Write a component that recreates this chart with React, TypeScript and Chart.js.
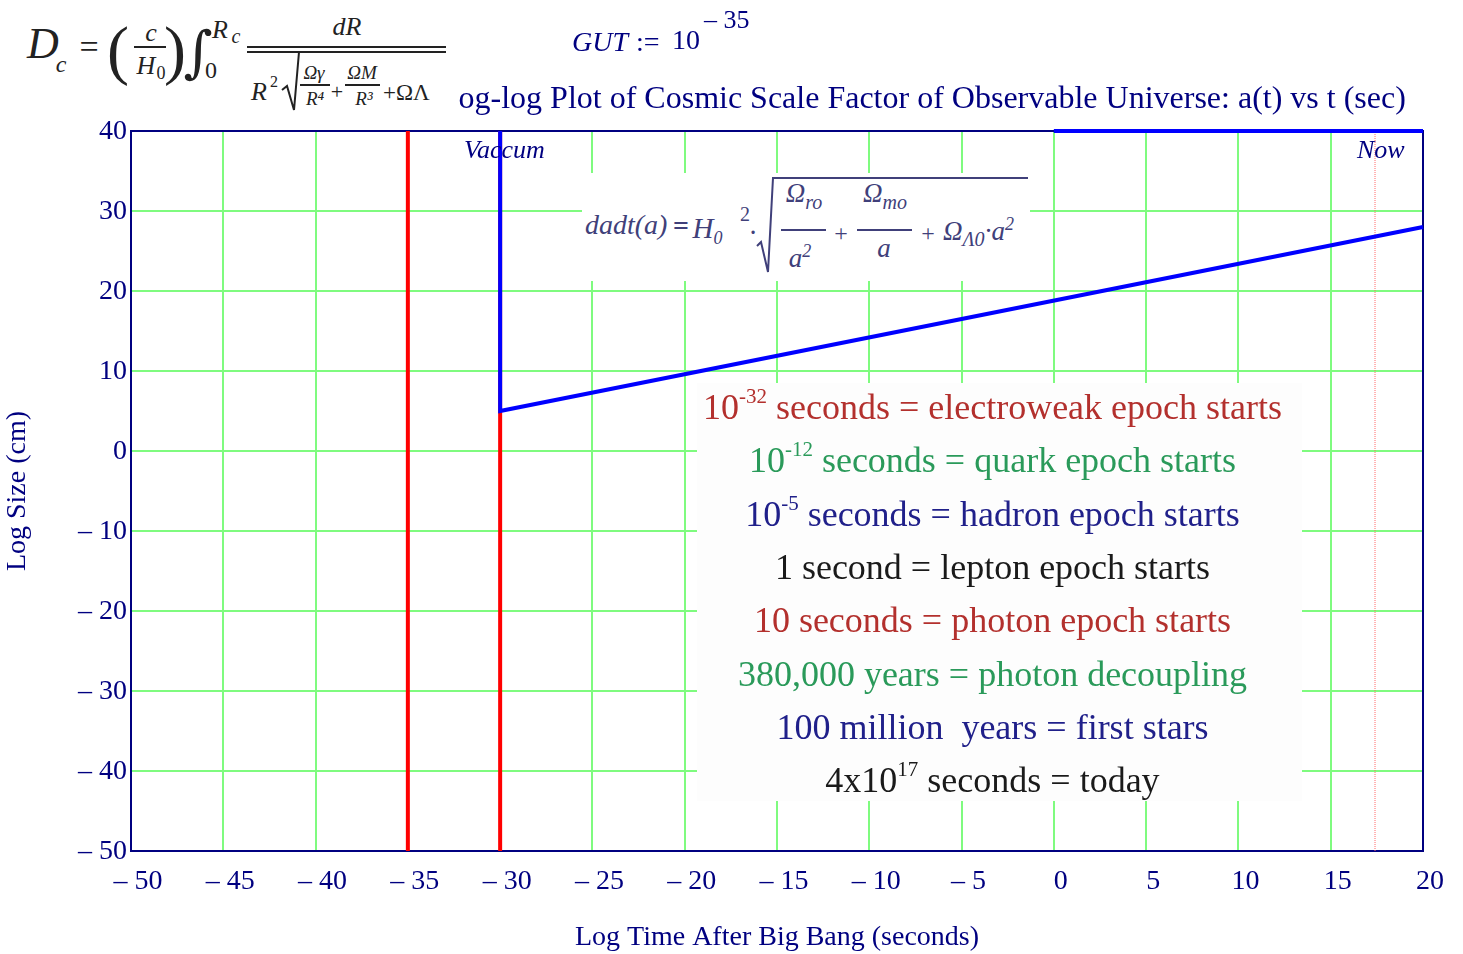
import React, { useEffect, useRef } from 'react';
import { Chart, registerables } from 'chart.js';

Chart.register(...registerables);

// ---- data ----
const xMin = -50;
const xMax = 20;
const xStep = 5;
const yMin = -50;
const yMax = 40;
const yStep = 10;

const gutTime = [-35, -35];
const gutSize = [-50, 40];
const vacuumTime = [-30, -30];
const vacuumSize = [-50, 40];
const expansionTime = [-30, -30, 20];
const expansionSize = [40, 5, 28];
const ceilingTime = [0, 20];
const ceilingSize = [40, 40];
const nowTime = [17.4, 17.4];
const nowSize = [-50, 40];

const epochLead = ['10', '10', '10', '1 second = lepton epoch starts', '10 seconds = photon epoch starts', '380,000 years = photon decoupling', '100 million  years = first stars', '4x10'];
const epochExp = ['-32', '-12', '-5', '', '', '', '', '17'];
const epochRest = [' seconds = electroweak epoch starts', ' seconds = quark epoch starts', ' seconds = hadron epoch starts', '', '', '', '', ' seconds = today'];

const titleText = 'Log-log Plot of Cosmic Scale Factor of Observable Universe: a(t) vs t (sec)';
const xTitle = 'Log Time After Big Bang (seconds)';
const yTitle = 'Log Size (cm)';

// ---- styles ----
const SERIF = "'Liberation Serif', 'Times New Roman', serif";
const NAVY = '#000080';
const epochColors = ['#b3302d', '#2a9a5a', '#20208a', '#1a1a1a', '#b3302d', '#2a9a5a', '#20208a', '#1a1a1a'];

function pts(xs: number[], ys: number[]) {
  return xs.map((x, i) => ({ x, y: ys[i] }));
}

type TP = { x: number; y: number; size: number; italic?: boolean; bold?: boolean; color?: string; anchor?: 'c' | 'l'; family?: string; children: React.ReactNode };
function T({ x, y, size, italic, bold, color, anchor = 'c', family, children }: TP) {
  return (
    <span
      style={{
        position: 'absolute',
        left: x,
        top: y,
        transform: anchor === 'c' ? 'translate(-50%,-50%)' : 'translate(0,-50%)',
        fontSize: size,
        lineHeight: 1,
        fontStyle: italic ? 'italic' : 'normal',
        fontWeight: bold ? 'bold' : 'normal',
        color: color || '#222',
        fontFamily: family || SERIF,
        whiteSpace: 'pre',
      }}
    >
      {children}
    </span>
  );
}

function Bar({ x, y, w, h = 2, color = '#222' }: { x: number; y: number; w: number; h?: number; color?: string }) {
  return <div style={{ position: 'absolute', left: x, top: y, width: w, height: h, background: color }} />;
}

const frame = {
  id: 'frame',
  beforeDatasetsDraw(chart: any) {
    const { ctx, chartArea: a } = chart;
    ctx.save();
    ctx.strokeStyle = NAVY;
    ctx.lineWidth = 2;
    ctx.strokeRect(a.left, a.top, a.right - a.left, a.bottom - a.top);
    ctx.restore();
  },
};

export default function App() {
  const ref = useRef<HTMLCanvasElement>(null);
  useEffect(() => {
    if (!ref.current) return;
    const tick = (v: any) => (v < 0 ? '\u2013 ' + Math.abs(v) : String(v));
    const chart = new Chart(ref.current, {
      type: 'line',
      data: {
        datasets: [
          { data: pts(expansionTime, expansionSize), borderColor: '#0000ff', borderWidth: 4, pointRadius: 0, clip: false },
          { data: pts(ceilingTime, ceilingSize), borderColor: '#0000ff', borderWidth: 4, pointRadius: 0, clip: false },
          { data: pts(nowTime, nowSize), borderColor: '#ff6a6a', borderWidth: 1, borderDash: [1, 1], pointRadius: 0, clip: false },
          { data: pts(vacuumTime, vacuumSize), borderColor: '#ff0000', borderWidth: 4, pointRadius: 0, clip: false },
          { data: pts(gutTime, gutSize), borderColor: '#ff0000', borderWidth: 4, pointRadius: 0, clip: false },
        ],
      },
      options: {
        animation: false,
        responsive: false,
        maintainAspectRatio: false,
        layout: { padding: { top: 131, right: 40, left: 0, bottom: 0 } },
        plugins: { legend: { display: false }, tooltip: { enabled: false } },
        elements: { line: { tension: 0 } },
        scales: {
          x: {
            type: 'linear',
            min: xMin,
            max: xMax,
            afterFit: (s: any) => { s.height = 103; },
            grid: { color: '#7ffb7f', lineWidth: 2, drawTicks: false },
            border: { display: false },
            ticks: { stepSize: xStep, callback: tick, color: NAVY, padding: 14, labelOffset: 7, maxRotation: 0, autoSkip: false, font: { family: SERIF, size: 28 } },
            title: { display: true, text: xTitle, color: NAVY, padding: 0, font: { family: SERIF, size: 28 } },
          },
          y: {
            type: 'linear',
            min: yMin,
            max: yMax,
            afterFit: (s: any) => { s.width = 131; },
            grid: { color: '#7ffb7f', lineWidth: 2, drawTicks: false },
            border: { display: false },
            ticks: { stepSize: yStep, callback: tick, color: NAVY, padding: 4, labelOffset: 1, autoSkip: false, font: { family: SERIF, size: 28 } },
            title: { display: true, text: yTitle, color: NAVY, padding: { top: 1, bottom: 0 }, font: { family: SERIF, size: 28 } },
          },
        },
      },
      plugins: [frame],
    });
    return () => chart.destroy();
  }, []);

  const fc = '#40407a';
  return (
    <div style={{ position: 'absolute', left: 0, top: 0, width: 1463, height: 954, background: '#fff', overflow: 'hidden', fontFamily: SERIF }}>
      <canvas ref={ref} width={1463} height={954} style={{ position: 'absolute', left: 0, top: 0, width: 1463, height: 954 }} />

      {/* title */}
      <T x={439} y={97} size={32} color={NAVY} anchor="l">{titleText}</T>

      {/* Dc formula */}
      <div style={{ position: 'absolute', left: 0, top: 0, width: 458, height: 118, background: '#fff' }}>
        <T x={43} y={44} size={44} italic>D</T>
        <T x={61} y={64} size={24} italic>c</T>
        <T x={89} y={47} size={34}>=</T>
        <T x={118} y={50} size={66}>(</T>
        <T x={175} y={50} size={66}>)</T>
        <T x={151} y={33} size={26} italic>c</T>
        <Bar x={134} y={46} w={32} />
        <T x={146} y={66} size={26} italic>H</T>
        <T x={161} y={73} size={18}>0</T>
        <T x={198} y={52} size={56} family="'DejaVu Serif', serif">∫</T>
        <T x={220} y={30} size={26} italic>R</T>
        <T x={236} y={36} size={20} italic>c</T>
        <T x={211} y={70} size={24}>0</T>
        <T x={347} y={27} size={26} italic>dR</T>
        <Bar x={247} y={46} w={199} />
        <Bar x={247} y={51} w={199} />
        <T x={259} y={92} size={26} italic>R</T>
        <T x={274} y={82} size={16}>2</T>
        <svg style={{ position: 'absolute', left: 280, top: 50, overflow: 'visible' }} width={20} height={64}>
          <polyline points="2,40 7,36 14,60 19,2" fill="none" stroke="#222" strokeWidth={2} />
        </svg>
        <T x={314} y={72} size={19} italic>Ωγ</T>
        <Bar x={300} y={84} w={30} h={1.5} />
        <T x={315} y={98} size={19} italic>R⁴</T>
        <T x={337} y={92} size={22}>+</T>
        <T x={362} y={72} size={19} italic>ΩM</T>
        <Bar x={345} y={84} w={35} h={1.5} />
        <T x={364} y={98} size={19} italic>R³</T>
        <T x={383} y={92} size={23} anchor="l">+ΩΛ</T>
      </div>

      {/* GUT */}
      <T x={572} y={42} size={28} italic color={NAVY} anchor="l">GUT</T>
      <T x={636} y={42} size={28} color={NAVY} anchor="l">:=</T>
      <T x={672} y={40} size={28} color={NAVY} anchor="l">10</T>
      <T x={704} y={20} size={26} color={NAVY} anchor="l">{'\u2013 35'}</T>

      {/* in-plot labels */}
      <T x={464} y={150} size={26} italic color={NAVY} anchor="l">Vaccum</T>
      <T x={1357} y={150} size={26} italic color={NAVY} anchor="l">Now</T>

      {/* dadt formula */}
      <div style={{ position: 'absolute', left: 582, top: 173, width: 448, height: 108, background: '#fff' }} />
      <T x={585} y={225} size={28} italic color={fc} anchor="l">dadt(a)</T>
      <T x={681} y={226} size={28} bold color={fc}>=</T>
      <T x={703} y={228} size={29} italic color={fc}>H</T>
      <T x={718} y={238} size={18} italic color={fc}>0</T>
      <T x={745} y={214} size={20} color={fc}>2</T>
      <T x={753} y={232} size={20} bold color={fc}>·</T>
      <svg style={{ position: 'absolute', left: 756, top: 176, overflow: 'visible' }} width={20} height={100}>
        <polyline points="1,70 5,66 12,96 17,2 272,2" fill="none" stroke={fc} strokeWidth={2} />
      </svg>
      <T x={804} y={196} size={27} italic color={fc}>Ω<sub style={{ fontSize: 20 }}>ro</sub></T>
      <Bar x={781} y={229} w={45} h={1.5} color={fc} />
      <T x={800} y={257} size={27} italic color={fc}>a<sup style={{ fontSize: 18 }}>2</sup></T>
      <T x={841} y={233} size={24} color={fc}>+</T>
      <T x={885} y={196} size={27} italic color={fc}>Ω<sub style={{ fontSize: 20 }}>mo</sub></T>
      <Bar x={857} y={229} w={55} h={1.5} color={fc} />
      <T x={884} y={248} size={27} italic color={fc}>a</T>
      <T x={928} y={233} size={24} color={fc}>+</T>
      <T x={943} y={232} size={27} italic color={fc} anchor="l">Ω<sub style={{ fontSize: 20 }}>Λ0</sub>·a<sup style={{ fontSize: 18 }}>2</sup></T>

      {/* epochs box */}
      <div style={{ position: 'absolute', left: 697, top: 383, width: 605, height: 418, background: '#fdfdfd' }} />
      {epochLead.map((lead, i) => (
        <div
          key={i}
          style={{
            position: 'absolute', left: 690, width: 605, top: 407 + i * 53.3 - 23, height: 46,
            textAlign: 'center', fontSize: 36, lineHeight: '46px', color: epochColors[i], whiteSpace: 'pre', fontFamily: SERIF,
          }}
        >
          {lead}
          {epochExp[i] ? <sup style={{ fontSize: 21, verticalAlign: '0.75em', lineHeight: 0 }}>{epochExp[i]}</sup> : null}
          {epochRest[i]}
        </div>
      ))}
    </div>
  );
}
